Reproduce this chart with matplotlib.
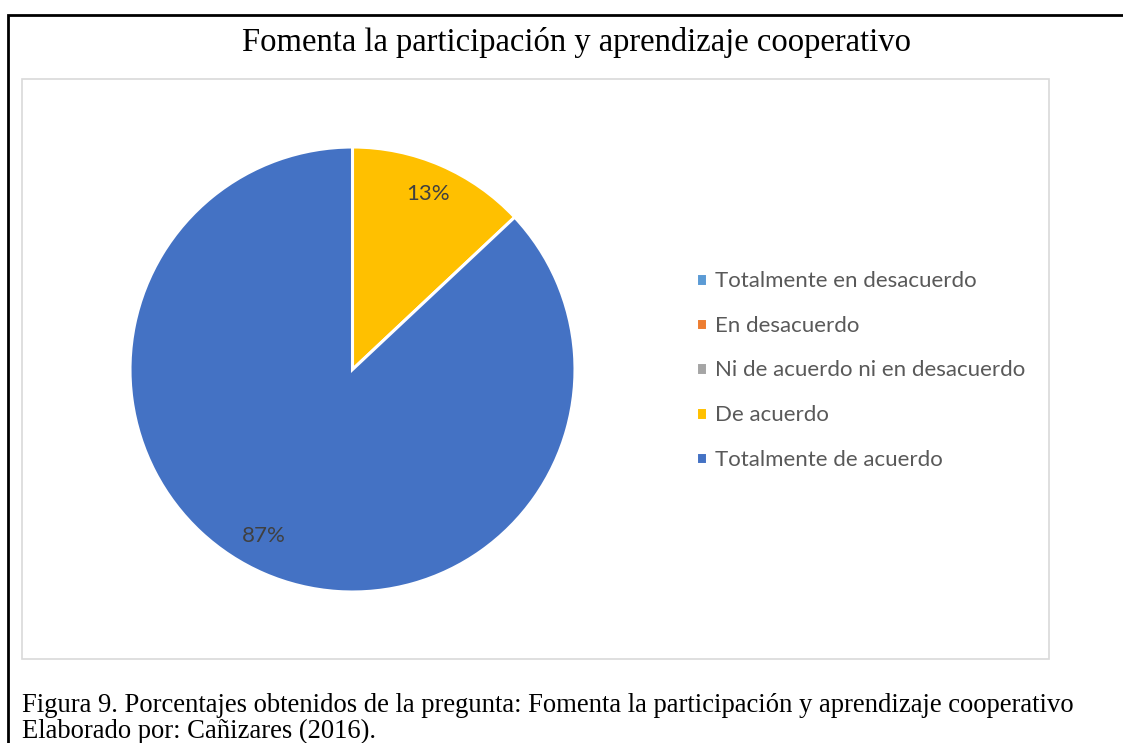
import matplotlib
matplotlib.use("Agg")
import matplotlib.pyplot as plt
from matplotlib.patches import Rectangle

W, H = 1123, 743

title = "Fomenta la participación y aprendizaje cooperativo"
categories = ["Totalmente en desacuerdo", "En desacuerdo",
              "Ni de acuerdo ni en desacuerdo", "De acuerdo",
              "Totalmente de acuerdo"]
values = [0, 0, 0, 13, 87]
colors = ["#5B9BD5", "#ED7D31", "#A5A5A5", "#FFC000", "#4472C4"]
caption = ["Figura 9. Porcentajes obtenidos de la pregunta: Fomenta la participación y aprendizaje cooperativo",
           "Elaborado por: Cañizares (2016)."]

fig = plt.figure(figsize=(W / 100, H / 100), dpi=100)

def fx(px):
    return px / W

def fy(py):
    return 1 - py / H

# outer frame (cut off at right and bottom)
fig.patches.append(Rectangle((fx(8), fy(760)), fx(1140 - 8), (760 - 15) / H,
                             transform=fig.transFigure, fill=False,
                             edgecolor="black", linewidth=2))
# chart area border
fig.patches.append(Rectangle((fx(22), fy(659)), fx(1049 - 22), (659 - 79) / H,
                             transform=fig.transFigure, fill=False,
                             edgecolor="#D9D9D9", linewidth=1.2))

fig.text(fx(577), fy(42), title, ha="center", va="center",
         fontsize=23.5, family="Liberation Serif", color="black")

# pie axes: center (352, 370), radius 222 px
cx, cy, r = 352.5, 369.5, 222.5
ax = fig.add_axes([fx(cx - r), fy(cy + r), 2 * r / W, 2 * r / H])
wedges, texts, autotexts = ax.pie(
    values, colors=colors, startangle=90, counterclock=False,
    autopct=lambda p: f"{p:.0f}%" if p > 0.5 else "",
    pctdistance=0.86,
    wedgeprops=dict(edgecolor="white", linewidth=2.2),
    textprops=dict(fontsize=16, family="Lato", color="#404040"))
# Excel places the big slice label a bit further left
autotexts[4].set_position((-0.40, -0.75))
ax.set_xlim(-1, 1)
ax.set_ylim(-1, 1)

fig.legend(wedges, categories, loc="upper left",
           bbox_to_anchor=(fx(685), fy(260)), frameon=False,
           prop=dict(family="Lato", size=16), labelcolor="#595959",
           handlelength=0.5, handleheight=0.5, handletextpad=0.35,
           labelspacing=1.11, borderpad=0)

for i, line in enumerate(caption):
    fig.text(fx(22), fy(712 + 26 * i), line, ha="left", va="baseline",
             fontsize=19.2, family="Liberation Serif", color="black")

fig.savefig("out.png", dpi=100)
